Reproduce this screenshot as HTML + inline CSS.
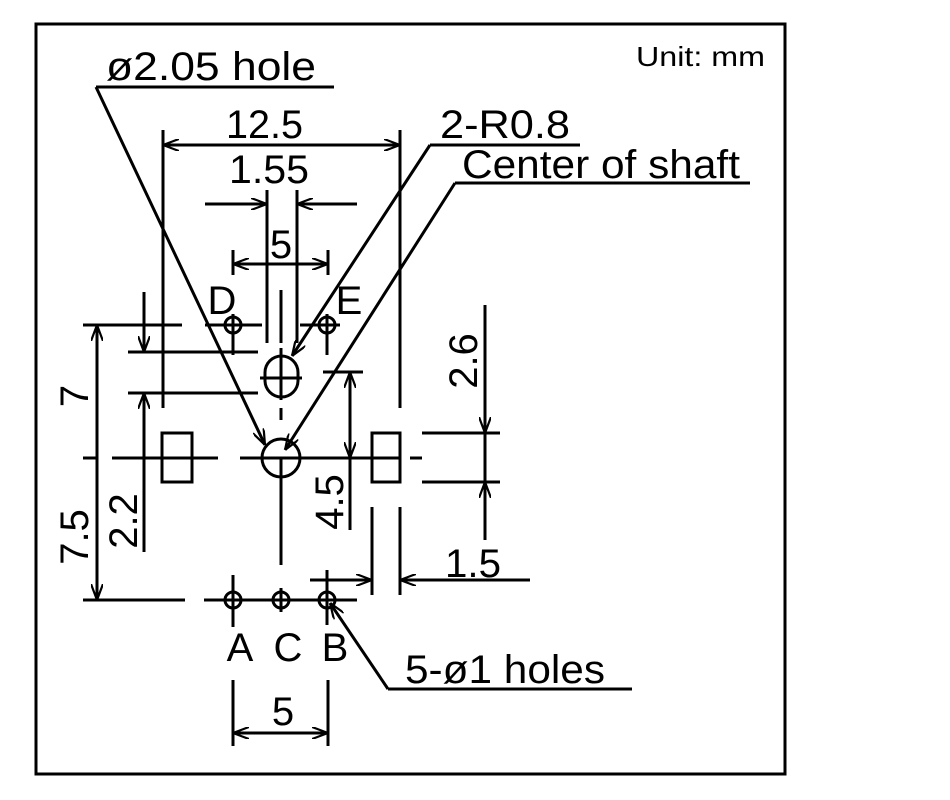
<!DOCTYPE html>
<html><head><meta charset="utf-8"><style>
html,body{margin:0;padding:0;background:#fff;}
svg{display:block;}
text{font-family:"Liberation Sans",Arial,sans-serif;fill:#000;}
</style></head><body>
<svg width="950" height="800" viewBox="0 0 950 800" xmlns="http://www.w3.org/2000/svg">
<defs>
<marker id="a" viewBox="0 0 16 12" refX="16" refY="6" markerWidth="16" markerHeight="12" markerUnits="userSpaceOnUse" orient="auto-start-reverse">
<path d="M0,0 L16,6 L0,12" fill="none" stroke="#000" stroke-width="2.2"/>
</marker>
</defs>
<rect x="36" y="24" width="749" height="750" fill="none" stroke="#000" stroke-width="3"/>
<g stroke="#000" stroke-width="3" fill="none" stroke-linecap="butt">
<line x1="96" y1="87" x2="334" y2="87"/>
<line x1="96" y1="87" x2="265" y2="445" marker-end="url(#a)"/>
<line x1="430" y1="145" x2="580" y2="145"/>
<line x1="430" y1="145" x2="292" y2="356" marker-end="url(#a)"/>
<line x1="455" y1="183" x2="750" y2="183"/>
<line x1="455" y1="183" x2="285" y2="450" marker-end="url(#a)"/>
<line x1="388" y1="689" x2="632" y2="689"/>
<line x1="388" y1="689" x2="330" y2="603" marker-end="url(#a)"/>
<line x1="163" y1="130" x2="163" y2="408"/>
<line x1="400" y1="130" x2="400" y2="408"/>
<line x1="163" y1="145" x2="400" y2="145" marker-start="url(#a)" marker-end="url(#a)"/>
<line x1="267" y1="190" x2="267" y2="343"/>
<line x1="297" y1="190" x2="297" y2="343"/>
<line x1="205" y1="204" x2="267" y2="204" marker-end="url(#a)"/>
<line x1="357" y1="204" x2="297" y2="204" marker-end="url(#a)"/>
<line x1="233" y1="250" x2="233" y2="275"/>
<line x1="328" y1="250" x2="328" y2="275"/>
<line x1="233" y1="264" x2="328" y2="264" marker-start="url(#a)" marker-end="url(#a)"/>
<line x1="281" y1="290" x2="281" y2="343"/>
<line x1="281" y1="408" x2="281" y2="420"/>
<line x1="281" y1="458" x2="281" y2="565"/>
<rect x="265" y="356" width="33" height="41" rx="16.5" ry="16.5"/>
<line x1="260" y1="378" x2="302" y2="378"/>
<line x1="281" y1="348" x2="281" y2="400"/>
<circle cx="233" cy="325" r="8"/><circle cx="327" cy="325" r="8"/>
<line x1="233" y1="314" x2="233" y2="355"/>
<line x1="327" y1="314" x2="327" y2="355"/>
<line x1="205" y1="325" x2="262" y2="325"/>
<line x1="300" y1="325" x2="340" y2="325"/>
<line x1="83" y1="325" x2="182" y2="325"/>
<line x1="97" y1="458" x2="97" y2="325" marker-end="url(#a)"/>
<line x1="97" y1="458" x2="97" y2="600" marker-end="url(#a)"/>
<line x1="83" y1="600" x2="185" y2="600"/>
<line x1="204" y1="600" x2="357" y2="600"/>
<line x1="128" y1="352" x2="258" y2="352"/>
<line x1="128" y1="393" x2="258" y2="393"/>
<line x1="144" y1="292" x2="144" y2="352" marker-end="url(#a)"/>
<line x1="144" y1="552" x2="144" y2="393" marker-end="url(#a)"/>
<line x1="83" y1="458" x2="96" y2="458"/>
<line x1="112" y1="458" x2="218" y2="458"/>
<line x1="240" y1="458" x2="400" y2="458"/>
<line x1="410" y1="458" x2="422" y2="458"/>
<rect x="162" y="433" width="30" height="49"/>
<rect x="372" y="433" width="28" height="49"/>
<circle cx="281" cy="458" r="19"/>
<line x1="323" y1="372" x2="363" y2="372"/>
<line x1="350" y1="415" x2="350" y2="372" marker-end="url(#a)"/>
<line x1="350" y1="415" x2="350" y2="458" marker-end="url(#a)"/>
<line x1="350" y1="458" x2="350" y2="530"/>
<line x1="422" y1="433" x2="500" y2="433"/>
<line x1="422" y1="482" x2="500" y2="482"/>
<line x1="485" y1="305" x2="485" y2="433" marker-end="url(#a)"/>
<line x1="485" y1="540" x2="485" y2="482" marker-end="url(#a)"/>
<line x1="485" y1="433" x2="485" y2="482"/>
<line x1="372" y1="507" x2="372" y2="595"/>
<line x1="400" y1="507" x2="400" y2="595"/>
<line x1="310" y1="580" x2="372" y2="580" marker-end="url(#a)"/>
<line x1="530" y1="580" x2="400" y2="580" marker-end="url(#a)"/>
<circle cx="233" cy="600" r="8"/><circle cx="281" cy="600" r="8"/><circle cx="327" cy="600" r="8"/>
<line x1="233" y1="575" x2="233" y2="627"/>
<line x1="281" y1="588" x2="281" y2="612"/>
<line x1="327" y1="570" x2="327" y2="625"/>
<line x1="233" y1="680" x2="233" y2="746"/>
<line x1="328" y1="680" x2="328" y2="746"/>
<line x1="233" y1="733" x2="328" y2="733" marker-start="url(#a)" marker-end="url(#a)"/>
</g>
<g font-size="40">
<text x="106" y="80" textLength="210" lengthAdjust="spacingAndGlyphs">ø2.05  hole</text>
<text x="226" y="138" textLength="77" lengthAdjust="spacingAndGlyphs">12.5</text>
<text x="229" y="183" textLength="80" lengthAdjust="spacingAndGlyphs">1.55</text>
<text x="281" y="258" text-anchor="middle">5</text>
<text x="440" y="138" textLength="130" lengthAdjust="spacingAndGlyphs">2-R0.8</text>
<text x="462" y="178" textLength="278" lengthAdjust="spacingAndGlyphs">Center of shaft</text>
<text x="222" y="314" text-anchor="middle">D</text>
<text x="349" y="314" text-anchor="middle">E</text>
<text x="240" y="661" text-anchor="middle">A</text>
<text x="288" y="661" text-anchor="middle">C</text>
<text x="335" y="661" text-anchor="middle">B</text>
<text x="405" y="683" textLength="200" lengthAdjust="spacingAndGlyphs">5-ø1 holes</text>
<text x="445" y="577" textLength="56" lengthAdjust="spacingAndGlyphs">1.5</text>
<text x="283" y="725" text-anchor="middle">5</text>
<text transform="translate(88,396) rotate(-90)" text-anchor="middle">7</text>
<text transform="translate(88,537) rotate(-90)" text-anchor="middle">7.5</text>
<text transform="translate(137,521) rotate(-90)" text-anchor="middle">2.2</text>
<text transform="translate(343,502) rotate(-90)" text-anchor="middle">4.5</text>
<text transform="translate(477,361) rotate(-90)" text-anchor="middle">2.6</text>
</g>
<text x="636" y="66" font-size="28" textLength="129" lengthAdjust="spacingAndGlyphs">Unit: mm</text>
</svg>
</body></html>
